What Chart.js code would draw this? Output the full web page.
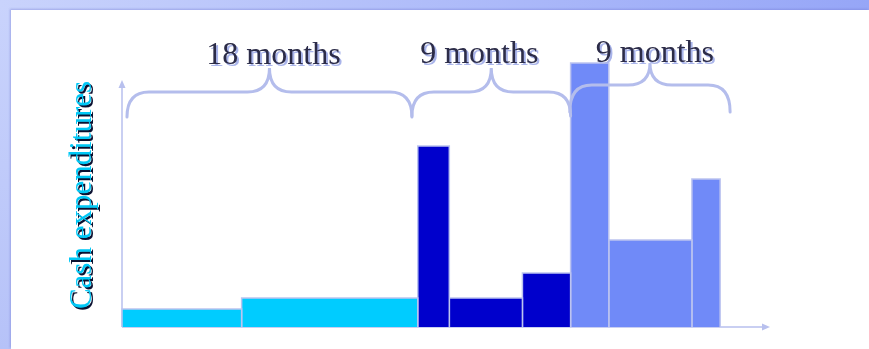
<!DOCTYPE html>
<html>
<head>
<meta charset="utf-8">
<script src="https://cdn.jsdelivr.net/npm/chart.js@4"></script>
<style>
  html, body { margin: 0; padding: 0; }
  #wrap {
    position: relative; width: 869px; height: 349px; overflow: hidden;
    background: linear-gradient(to bottom, #c9d3fc, #b6c2f8);
  }
  #topstrip {
    position: absolute; left: 0; top: 0; width: 869px; height: 10px;
    background: linear-gradient(to right, #c9d3fc, #96a6f7);
  }
  #panel {
    position: absolute; left: 11px; top: 10px; right: 0; bottom: 0;
    background: #fff;
    box-shadow: -1px -1px 2px rgba(110, 120, 210, 0.45);
  }
  #box { position: absolute; left: 0; top: 0; width: 869px; height: 349px; }
</style>
</head>
<body>
<div id="wrap">
  <div id="topstrip"></div>
  <div id="panel"></div>
  <div id="box"><canvas id="chart"></canvas></div>
</div>
<script>
// bar edges in months (0 = start) and the cash spent in each period
const edges = [0, 7.2, 17.8, 19.7, 24.1, 27.0, 29.3, 34.3, 36.0];
const spend = [6.7, 10.9, 67.8, 10.9, 20.2, 98.9, 32.6, 55.4];
const phase = [0, 0, 1, 1, 1, 2, 2, 2];

// braces over the phases
const braceLabels = ['18 months', '9 months', '9 months'];
const braceFrom = [0.3, 17.45, 26.95];
const braceTo = [17.45, 27.0, 36.6];

const phaseColors = ['#00ccff', '#0000cc', '#708af8'];
const edgeColor = '#bcc4f0';
const axisColor = '#b8c0ee';

const datasets = spend.map((h, i) => ({
    data: [
        { x: edges[i], y: 0 },
        { x: edges[i], y: h },
        { x: edges[i + 1], y: h },
        { x: edges[i + 1], y: 0 }
    ],
    backgroundColor: phaseColors[phase[i]],
    borderColor: edgeColor,
    borderWidth: 1.5,
    fill: 'origin',
    pointRadius: 0,
    tension: 0,
    clip: false
}));

// axes with arrow heads, drawn under the bars
const axesPlugin = {
    id: 'axes',
    beforeDatasetsDraw(chart) {
        const { ctx, chartArea } = chart;
        const x0 = chartArea.left, y0 = chartArea.bottom;
        const yTop = 80, xEnd = chartArea.right;
        ctx.save();
        ctx.strokeStyle = axisColor;
        ctx.fillStyle = axisColor;
        ctx.lineWidth = 1.5;
        ctx.beginPath();
        ctx.moveTo(x0, y0);
        ctx.lineTo(x0, yTop + 6);
        ctx.moveTo(x0, y0);
        ctx.lineTo(xEnd - 6, y0);
        ctx.stroke();
        ctx.beginPath();
        ctx.moveTo(x0, yTop);
        ctx.lineTo(x0 - 3.5, yTop + 8);
        ctx.lineTo(x0 + 3.5, yTop + 8);
        ctx.closePath();
        ctx.fill();
        ctx.beginPath();
        ctx.moveTo(xEnd, y0);
        ctx.lineTo(xEnd - 8, y0 - 3.5);
        ctx.lineTo(xEnd - 8, y0 + 3.5);
        ctx.closePath();
        ctx.fill();
        ctx.restore();
    }
};

// curly braces, their labels and the y title, drawn over the bars
const bracePlugin = {
    id: 'braces',
    afterDatasetsDraw(chart) {
        const { ctx } = chart;
        const xs = chart.scales.x;
        const tipY = [117, 116, 112];
        const flatY = [92, 92, 85];
        const peakY = [68, 68, 63];
        const textDx = [4, -12, 5];
        const textY = [64, 63, 62];
        ctx.save();
        for (let i = 0; i < braceLabels.length; i++) {
            const a = xs.getPixelForValue(braceFrom[i]);
            const b = xs.getPixelForValue(braceTo[i]);
            const m = (a + b) / 2;
            const r = 22;
            ctx.strokeStyle = '#b4bdec';
            ctx.lineWidth = 3;
            ctx.lineCap = 'round';
            ctx.beginPath();
            ctx.moveTo(a, tipY[i]);
            ctx.quadraticCurveTo(a, flatY[i], a + r, flatY[i]);
            ctx.lineTo(m - r, flatY[i]);
            ctx.quadraticCurveTo(m, flatY[i], m, peakY[i]);
            ctx.quadraticCurveTo(m, flatY[i], m + r, flatY[i]);
            ctx.lineTo(b - r, flatY[i]);
            ctx.quadraticCurveTo(b, flatY[i], b, tipY[i]);
            ctx.stroke();

            ctx.font = '32px "Liberation Serif", "Times New Roman", serif';
            ctx.textAlign = 'center';
            ctx.textBaseline = 'alphabetic';
            ctx.shadowColor = '#a9b4ea';
            ctx.shadowOffsetX = 2;
            ctx.shadowOffsetY = 2;
            ctx.fillStyle = '#2c2c48';
            ctx.fillText(braceLabels[i], m + textDx[i], textY[i]);
            ctx.shadowColor = 'transparent';
        }

        // y title
        ctx.translate(91, 195);
        ctx.rotate(-Math.PI / 2);
        ctx.font = '31px "Liberation Serif", "Times New Roman", serif';
        ctx.textAlign = 'center';
        ctx.textBaseline = 'alphabetic';
        ctx.shadowColor = '#0a1030';
        ctx.shadowOffsetX = 2;
        ctx.shadowOffsetY = 2;
        ctx.fillStyle = '#00c8f6';
        ctx.fillText('Cash expenditures', 0, 0);
        ctx.restore();
    }
};

new Chart(document.getElementById('chart'), {
    type: 'line',
    data: { datasets: datasets },
    options: {
        responsive: true,
        maintainAspectRatio: false,
        animation: false,
        layout: { padding: { left: 122, right: 99, top: 60, bottom: 22 } },
        plugins: {
            legend: { display: false },
            tooltip: { enabled: false }
        },
        scales: {
            x: { type: 'linear', min: 0, max: 39, display: false },
            y: { min: 0, max: 100, display: false }
        }
    },
    plugins: [axesPlugin, bracePlugin]
});
</script>
</body>
</html>
